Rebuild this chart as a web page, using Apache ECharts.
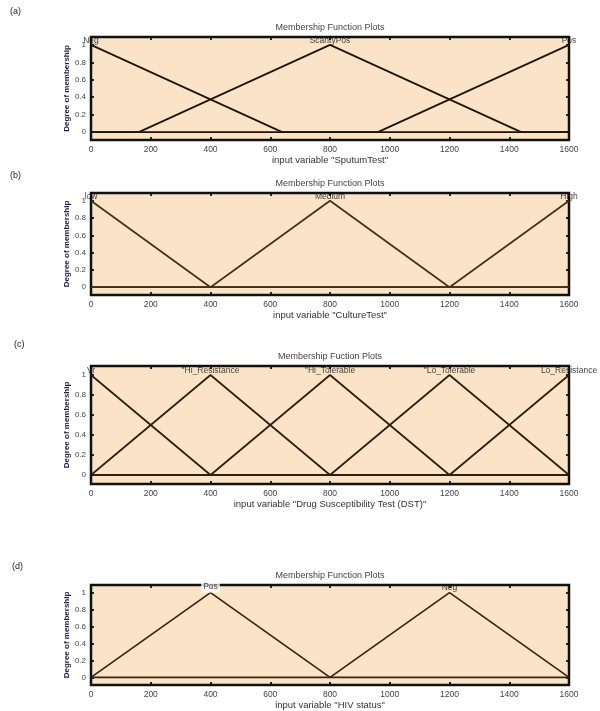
<!DOCTYPE html>
<html><head><meta charset="utf-8">
<script src="https://cdn.jsdelivr.net/npm/echarts@6/dist/echarts.min.js"></script>
<style>html,body{margin:0;padding:0;background:#fff}#c{width:600px;height:711px}</style>
</head><body><div id="c"></div>
<script>
const xTicks = [0, 200, 400, 600, 800, 1000, 1200, 1400, 1600];
const yTicks = [0, 0.2, 0.4, 0.6, 0.8, 1];
const panelLetters = ['(a)', '(b)', '(c)', '(d)'];
const plotTitles = ['Membership Function Plots', 'Membership Function Plots', 'Membership Fuction Plots', 'Membership Function Plots'];
const xNames = ['input variable "SputumTest"', 'input variable "CultureTest"', 'input variable "Drug Susceptibility Test (DST)"', 'input variable "HIV status"'];

// (a) SputumTest
const sputumNames = ['Neg', 'ScantyPos', 'Pos'];
const sputumPeaks = [0, 800, 1600];
const sputumLow = [[0, 1], [640, 0], [1600, 0]];
const sputumMid = [[0, 0], [160, 0], [800, 1], [1440, 0], [1600, 0]];
const sputumHigh = [[0, 0], [960, 0], [1600, 1]];

// (b) CultureTest
const cultureNames = ['low', 'Medium', 'High'];
const culturePeaks = [0, 800, 1600];
const cultureLow = [[0, 1], [400, 0], [1600, 0]];
const cultureMid = [[0, 0], [400, 0], [800, 1], [1200, 0], [1600, 0]];
const cultureHigh = [[0, 0], [1200, 0], [1600, 1]];

// (c) Drug Susceptibility Test
const dstNames = ['Vr', '"Hi_Resistance', '"Hi_Tolerable', '"Lo_Tolerable', 'Lo_Resistance'];
const dstPeaks = [0, 400, 800, 1200, 1600];
const dstMf1 = [[0, 1], [400, 0], [1600, 0]];
const dstMf2 = [[0, 0], [400, 1], [800, 0], [1600, 0]];
const dstMf3 = [[0, 0], [400, 0], [800, 1], [1200, 0], [1600, 0]];
const dstMf4 = [[0, 0], [800, 0], [1200, 1], [1600, 0]];
const dstMf5 = [[0, 0], [1200, 0], [1600, 1]];

// (d) HIV status
const hivNames = ['Pos', 'Neg'];
const hivPeaks = [400, 1200];
const hivPos = [[0, 0], [400, 1], [800, 0], [1600, 0]];
const hivNeg = [[0, 0], [800, 0], [1200, 1], [1600, 0]];

const panels = [
  { top: 37, height: 103, color: '#1e140c', lines: [sputumLow, sputumMid, sputumHigh], names: sputumNames, peaks: sputumPeaks, letterY: 12, letterX: 10 },
  { top: 193, height: 102, color: '#4a2e14', lines: [cultureLow, cultureMid, cultureHigh], names: cultureNames, peaks: culturePeaks, letterY: 176, letterX: 10 },
  { top: 366, height: 118, color: '#2e1c0c', lines: [dstMf1, dstMf2, dstMf3, dstMf4, dstMf5], names: dstNames, peaks: dstPeaks, letterY: 345, letterX: 14 },
  { top: 585, height: 101, color: '#3a2410', lines: [hivPos, hivNeg], names: hivNames, peaks: hivPeaks, letterY: 567, letterX: 12 }
];

const FONT = 'Liberation Sans, Arial, sans-serif';
const grid = [], xAxis = [], yAxis = [], series = [], graphic = [];
panels.forEach((p, i) => {
  grid.push({ left: 91, right: 31, top: p.top, height: p.height, show: true, backgroundColor: '#FAE3C6', borderColor: '#111', borderWidth: 2.5 });
  const baseX = { type: 'value', gridIndex: i, min: 0, max: 1600, interval: 200, splitLine: { show: false }, axisLine: { show: false, onZero: false },
    axisTick: { show: true, inside: true, length: 3, lineStyle: { color: '#111', width: 1.8 } } };
  xAxis.push(Object.assign({}, baseX, { position: 'bottom',
    axisLabel: { fontSize: 8.5, color: '#444', margin: 5, fontFamily: FONT, formatter: v => String(v) },
    name: xNames[i], nameLocation: 'middle', nameGap: 15, nameTextStyle: { fontSize: 9.5, color: '#333', fontFamily: FONT } }));
  xAxis.push(Object.assign({}, baseX, { position: 'top', axisLabel: { show: false } }));
  const baseY = { type: 'value', gridIndex: i, min: -0.09, max: 1.09, splitLine: { show: false }, axisLine: { show: false, onZero: false },
    axisTick: { show: true, inside: true, length: 3, customValues: yTicks, lineStyle: { color: '#111', width: 1.8 } } };
  yAxis.push(Object.assign({}, baseY, { position: 'left',
    axisLabel: { fontSize: 8, color: '#444', margin: 5, customValues: yTicks, fontFamily: FONT, formatter: v => String(+v.toFixed(1)) },
    name: 'Degree of membership', nameLocation: 'middle', nameGap: 20, nameMoveOverlap: false,
    nameTextStyle: { fontSize: 8, fontWeight: 'bold', color: '#1c1c48', fontFamily: FONT } }));
  yAxis.push(Object.assign({}, baseY, { position: 'right', axisLabel: { show: false } }));
  p.lines.forEach(d => {
    series.push({ type: 'line', xAxisIndex: 2 * i, yAxisIndex: 2 * i, data: d, showSymbol: false, silent: true,
      lineStyle: { color: p.color, width: 1.7 }, z: 3 });
  });
  series.push({ type: 'scatter', xAxisIndex: 2 * i, yAxisIndex: 2 * i, symbolSize: 0, silent: true, z: 5,
    data: p.peaks.map((x, k) => ({ value: [x, 1], name: p.names[k],
      label: (i === 3 && k === 0) ? { backgroundColor: '#fff', padding: [1, 2] } : {} })),
    label: { show: true, formatter: '{b}', position: 'top', distance: 0, fontSize: 8.5, color: '#111', fontFamily: FONT } });
  graphic.push({ type: 'text', left: p.letterX, top: p.letterY - 5, style: { text: panelLetters[i], fontSize: 9, fill: '#222', fontFamily: FONT } });
  graphic.push({ type: 'text', x: 330, y: p.top - 9, style: { text: plotTitles[i], fontSize: 9, fill: '#444', fontFamily: FONT, align: 'center', verticalAlign: 'middle' } });
});

const chart = echarts.init(document.getElementById('c'), null, { renderer: 'canvas' });
chart.setOption({ animation: false, backgroundColor: '#fff', grid, xAxis, yAxis, series, graphic });
</script></body></html>
